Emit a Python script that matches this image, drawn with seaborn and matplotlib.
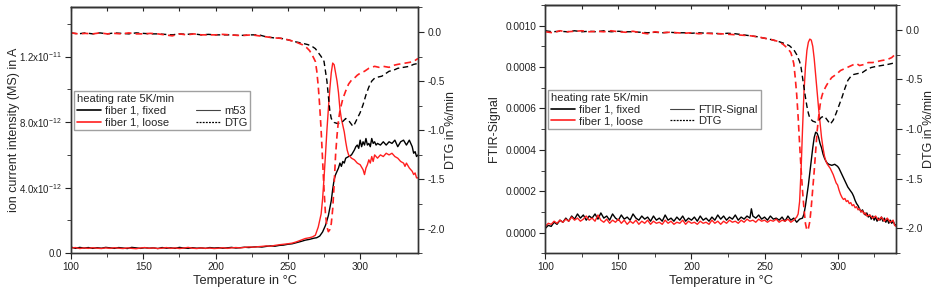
import numpy as np
import pandas as pd
import matplotlib
matplotlib.use("Agg")
import matplotlib.pyplot as plt
import seaborn as sns
from matplotlib.lines import Line2D
from matplotlib.ticker import MultipleLocator

# ---------------- data ----------------
# left panel: MS signal m53, values in 1e-12 A
T_ms_fixed = [100, 103, 106, 109, 112, 115, 118, 121, 124, 127, 130, 133, 136, 139, 142, 145, 148, 151, 154, 157,
              160, 163, 166, 169, 172, 175, 178, 181, 184, 187, 190, 193, 196, 199, 202, 205, 208, 211, 214, 217,
              220, 223, 226, 229, 232, 235, 238, 241, 244, 247, 250, 253, 256, 259, 262, 265, 268, 270, 272, 274,
              276, 278, 280, 281, 282, 283, 284, 285, 286, 287, 288, 289, 290, 292, 294, 296, 297, 298, 299, 300,
              301, 302, 303, 304, 305, 306, 307, 308, 309, 310, 311, 312, 314, 316, 318, 320, 322, 324, 326, 328,
              330, 332, 334, 336, 337, 338, 339, 340]
ms_fixed = [0.38, 0.30, 0.36, 0.32, 0.35, 0.30, 0.34, 0.31, 0.36, 0.33, 0.30, 0.35, 0.32, 0.29, 0.36, 0.33, 0.30, 0.34, 0.31, 0.33,
            0.29, 0.35, 0.31, 0.33, 0.30, 0.36, 0.32, 0.30, 0.34, 0.31, 0.33, 0.30, 0.35, 0.32, 0.34, 0.31, 0.33, 0.36, 0.32, 0.34,
            0.37, 0.35, 0.38, 0.40, 0.38, 0.42, 0.45, 0.43, 0.48, 0.50, 0.55, 0.58, 0.65, 0.72, 0.80, 0.85, 0.92, 0.95, 1.05, 1.30,
            1.70, 2.30, 3.20, 3.90, 4.50, 4.80, 5.00, 5.20, 5.50, 5.30, 5.60, 5.50, 5.80, 5.90, 6.00, 6.30, 6.50, 6.60, 6.40, 6.90,
            6.50, 6.80, 6.60, 7.00, 6.60, 6.70, 6.50, 7.00, 6.70, 6.80, 6.60, 6.70, 6.60, 6.80, 6.60, 6.80, 6.70, 6.90, 6.50, 6.80,
            6.90, 6.60, 6.90, 6.50, 6.10, 6.20, 5.90, 6.00]

T_ms_loose = [100, 103, 106, 109, 112, 115, 118, 121, 124, 127, 130, 133, 136, 139, 142, 145, 148, 151, 154, 157,
              160, 163, 166, 169, 172, 175, 178, 181, 184, 187, 190, 193, 196, 199, 202, 205, 208, 211, 214, 217,
              220, 223, 226, 229, 232, 235, 238, 241, 244, 247, 250, 253, 256, 259, 262, 265, 267, 269, 271, 273,
              274, 275, 276, 277, 278, 279, 280, 281, 282, 283, 284, 285, 286, 287, 288, 289, 290, 291, 292, 294,
              296, 298, 300, 302, 303, 304, 305, 306, 307, 308, 309, 310, 312, 314, 316, 318, 320, 322, 324, 326,
              328, 330, 331, 332, 334, 336, 337, 338, 339, 340]
ms_loose = [0.32, 0.35, 0.29, 0.33, 0.30, 0.34, 0.31, 0.29, 0.33, 0.30, 0.34, 0.31, 0.29, 0.33, 0.30, 0.28, 0.32, 0.35, 0.30, 0.33,
            0.29, 0.31, 0.35, 0.30, 0.33, 0.29, 0.32, 0.36, 0.31, 0.29, 0.33, 0.30, 0.32, 0.29, 0.31, 0.34, 0.30, 0.33, 0.35, 0.33,
            0.36, 0.39, 0.37, 0.40, 0.42, 0.45, 0.43, 0.48, 0.52, 0.55, 0.58, 0.62, 0.70, 0.80, 0.90, 0.95, 1.00, 1.10, 1.60, 2.40,
            3.30, 4.60, 6.00, 7.50, 8.80, 10.00, 11.00, 11.60, 11.50, 11.00, 10.50, 9.80, 8.80, 8.20, 7.80, 7.40, 6.80, 6.30, 6.00, 5.80,
            5.70, 5.50, 5.40, 5.10, 4.80, 5.20, 5.40, 5.70, 5.50, 5.90, 5.60, 6.00, 5.80, 6.00, 5.90, 6.10, 6.00, 6.10, 5.90, 5.80,
            5.60, 5.50, 5.30, 5.50, 5.20, 5.00, 4.80, 4.90, 4.60, 4.60]

# left panel: DTG in %/min
T_dtg1_fixed = [100, 105, 110, 115, 120, 125, 130, 135, 140, 145, 150, 155, 160, 165, 170, 175, 180, 185, 190, 195,
                200, 205, 210, 215, 220, 225, 230, 235, 240, 245, 250, 255, 260, 264, 267, 269, 271, 273, 275, 276,
                277, 278, 279, 280, 282, 284, 286, 288, 290, 292, 294, 295, 296, 298, 300, 302, 304, 306, 308, 310,
                312, 315, 318, 320, 323, 326, 330, 334, 337, 340]
dtg1_fixed = [-0.01, -0.02, -0.01, -0.02, -0.01, -0.02, -0.01, -0.015, -0.02, -0.01, -0.015, -0.02, -0.02, -0.025, -0.03, -0.02, -0.025, -0.02, -0.03, -0.025,
              -0.03, -0.03, -0.03, -0.035, -0.035, -0.03, -0.03, -0.05, -0.06, -0.065, -0.08, -0.10, -0.115, -0.13, -0.15, -0.17, -0.21, -0.25, -0.30, -0.40,
              -0.50, -0.65, -0.80, -0.88, -0.92, -0.93, -0.93, -0.91, -0.88, -0.90, -0.94, -0.96, -0.94, -0.88, -0.82, -0.74, -0.64, -0.56, -0.50, -0.47,
              -0.46, -0.45, -0.42, -0.40, -0.39, -0.37, -0.36, -0.35, -0.33, -0.32]

T_dtg1_loose = [100, 105, 110, 115, 120, 125, 130, 135, 140, 145, 150, 155, 160, 165, 170, 175, 180, 185, 190, 195,
                200, 205, 210, 215, 220, 225, 230, 235, 240, 245, 250, 255, 260, 263, 265, 267, 268, 269, 270, 271,
                272, 273, 274, 275, 276, 277, 278, 279, 280, 281, 282, 283, 284, 285, 286, 288, 290, 292, 294, 296,
                298, 300, 303, 306, 310, 313, 316, 320, 323, 326, 330, 334, 337, 340]
dtg1_loose = [-0.01, -0.02, -0.015, -0.02, -0.01, -0.02, -0.015, -0.02, -0.01, -0.02, -0.02, -0.015, -0.02, -0.03, -0.04, -0.02, -0.03, -0.02, -0.03, -0.03,
              -0.03, -0.025, -0.03, -0.035, -0.035, -0.03, -0.04, -0.05, -0.06, -0.065, -0.08, -0.10, -0.13, -0.16, -0.19, -0.24, -0.27, -0.30, -0.40, -0.55,
              -0.75, -1.00, -1.30, -1.60, -1.85, -1.98, -2.03, -2.01, -1.95, -1.80, -1.55, -1.25, -1.05, -0.90, -0.80, -0.68, -0.60, -0.53, -0.49, -0.47,
              -0.44, -0.42, -0.40, -0.37, -0.35, -0.36, -0.35, -0.36, -0.34, -0.33, -0.32, -0.31, -0.30, -0.27]

# right panel: FTIR signal, values in 1e-4
T_ir_fixed = [100, 102, 104, 106, 108, 110, 112, 114, 116, 118, 120, 122, 124, 126, 128, 130, 132, 134, 136, 138,
              140, 142, 144, 146, 148, 150, 152, 154, 156, 158, 160, 162, 164, 166, 168, 170, 172, 174, 176, 178,
              180, 182, 184, 186, 188, 190, 192, 194, 196, 198, 200, 202, 204, 206, 208, 210, 212, 214, 216, 218,
              220, 222, 224, 226, 228, 230, 232, 234, 236, 238, 240, 241, 242, 244, 246, 248, 250, 252, 254, 256,
              258, 260, 262, 264, 266, 268, 270, 272, 274, 276, 277, 278, 279, 280, 281, 282, 283, 284, 285, 286,
              287, 288, 289, 290, 291, 292, 293, 294, 296, 298, 300, 301, 302, 303, 304, 305, 306, 307, 308, 309,
              310, 311, 312, 313, 314, 315, 316, 317, 318, 319, 320, 321, 322, 323, 324, 325, 326, 327, 328, 329,
              330, 331, 332, 333, 334, 335, 336, 337, 338, 339, 340]
ir_fixed = [0.2, 0.35, 0.3, 0.5, 0.4, 0.6, 0.5, 0.7, 0.55, 0.8, 0.65, 0.9, 0.7, 0.85, 0.6, 0.8, 0.7, 0.9, 0.65, 0.95,
            0.7, 0.8, 0.6, 0.9, 0.7, 0.6, 0.85, 0.65, 0.75, 0.6, 0.9, 0.7, 0.6, 0.8, 0.65, 0.75, 0.55, 0.8, 0.6, 0.7,
            0.55, 0.85, 0.6, 0.7, 0.55, 0.75, 0.6, 0.8, 0.55, 0.7, 0.6, 0.75, 0.55, 0.8, 0.6, 0.7, 0.55, 0.75, 0.6, 0.85,
            0.65, 0.8, 0.6, 0.75, 0.65, 0.85, 0.6, 0.75, 0.65, 0.8, 0.7, 1.15, 0.8, 0.7, 0.85, 0.65, 0.75, 0.6, 0.8, 0.65,
            0.7, 0.6, 0.75, 0.55, 0.8, 0.6, 0.7, 0.5, 0.65, 0.7, 0.9, 1.3, 1.8, 2.3, 2.9, 3.5, 4.1, 4.6, 4.85, 4.8,
            4.6, 4.3, 4.1, 3.8, 3.6, 3.45, 3.35, 3.3, 3.25, 3.3, 3.2, 3.1, 2.95, 2.8, 2.65, 2.5, 2.35, 2.2, 2.1, 2.0,
            1.9, 1.75, 1.55, 1.4, 1.3, 1.15, 1.0, 1.1, 0.95, 0.85, 0.95, 0.75, 0.85, 0.65, 0.8, 0.6, 0.75, 0.55, 0.7, 0.6,
            0.75, 0.55, 0.7, 0.5, 0.65, 0.45, 0.6, 0.45, 0.55, 0.4, 0.35]

T_ir_loose = [100, 102, 104, 106, 108, 110, 112, 114, 116, 118, 120, 122, 124, 126, 128, 130, 132, 134, 136, 138,
              140, 142, 144, 146, 148, 150, 152, 154, 156, 158, 160, 162, 164, 166, 168, 170, 172, 174, 176, 178,
              180, 182, 184, 186, 188, 190, 192, 194, 196, 198, 200, 202, 204, 206, 208, 210, 212, 214, 216, 218,
              220, 222, 224, 226, 228, 230, 232, 234, 236, 238, 240, 242, 244, 246, 248, 250, 252, 254, 256, 258,
              260, 262, 264, 266, 268, 270, 272, 273, 274, 275, 276, 277, 278, 279, 280, 281, 282, 283, 284, 285,
              286, 287, 288, 289, 290, 291, 292, 293, 294, 295, 296, 297, 298, 299, 300, 301, 302, 303, 304, 305,
              306, 307, 308, 309, 310, 311, 312, 313, 314, 315, 316, 317, 318, 319, 320, 322, 324, 326, 328, 330,
              332, 334, 336, 338, 339, 340]
ir_loose = [0.3, 0.45, 0.4, 0.55, 0.45, 0.6, 0.5, 0.65, 0.55, 0.75, 0.6, 0.7, 0.55, 0.65, 0.8, 0.6, 0.7, 0.55, 0.85, 0.6,
            0.5, 0.65, 0.45, 0.6, 0.5, 0.65, 0.45, 0.6, 0.4, 0.55, 0.45, 0.6, 0.4, 0.55, 0.45, 0.6, 0.4, 0.55, 0.45, 0.5,
            0.4, 0.6, 0.45, 0.55, 0.4, 0.5, 0.45, 0.6, 0.4, 0.55, 0.45, 0.5, 0.4, 0.55, 0.45, 0.5, 0.4, 0.6, 0.45, 0.55,
            0.4, 0.55, 0.45, 0.6, 0.5, 0.55, 0.45, 0.6, 0.5, 0.65, 0.55, 0.6, 0.5, 0.65, 0.55, 0.6, 0.5, 0.6, 0.55, 0.65,
            0.5, 0.6, 0.55, 0.65, 0.5, 0.6, 0.75, 0.9, 1.5, 3.0, 5.0, 6.8, 8.0, 8.8, 9.2, 9.35, 9.3, 9.0, 8.4, 7.6,
            6.8, 6.0, 5.3, 4.6, 4.1, 3.7, 3.45, 3.3, 3.2, 3.1, 2.95, 2.8, 2.6, 2.4, 2.3, 2.05, 1.85, 1.7, 1.6, 1.65,
            1.5, 1.55, 1.4, 1.45, 1.3, 1.35, 1.2, 1.25, 1.1, 1.15, 1.0, 1.05, 0.9, 0.95, 0.8, 0.85, 0.7, 0.8, 0.6, 0.75,
            0.55, 0.7, 0.5, 0.6, 0.35, 0.3]

# right panel: DTG in %/min
T_dtg2_fixed = [100, 105, 110, 115, 120, 125, 130, 135, 140, 145, 150, 155, 160, 165, 170, 175, 180, 185, 190, 195,
                200, 205, 210, 215, 220, 225, 230, 235, 240, 245, 250, 255, 260, 264, 267, 270, 272, 274, 275, 276,
                277, 278, 279, 280, 281, 283, 285, 287, 289, 291, 293, 295, 297, 299, 301, 303, 305, 307, 309, 311,
                314, 317, 320, 323, 326, 330, 334, 337, 340]
dtg2_fixed = [-0.01, -0.02, -0.015, -0.02, -0.01, -0.02, -0.015, -0.02, -0.01, -0.02, -0.015, -0.02, -0.02, -0.025, -0.03, -0.025, -0.03, -0.025, -0.03, -0.03,
              -0.035, -0.03, -0.035, -0.035, -0.04, -0.035, -0.04, -0.05, -0.06, -0.07, -0.085, -0.10, -0.12, -0.14, -0.16, -0.20, -0.25, -0.32, -0.38, -0.48,
              -0.58, -0.68, -0.77, -0.84, -0.89, -0.92, -0.93, -0.91, -0.88, -0.87, -0.91, -0.95, -0.91, -0.84, -0.76, -0.68, -0.59, -0.51, -0.47, -0.45,
              -0.44, -0.43, -0.40, -0.38, -0.37, -0.36, -0.35, -0.34, -0.33]

T_dtg2_loose = [100, 105, 110, 115, 120, 125, 130, 135, 140, 145, 150, 155, 160, 165, 170, 175, 180, 185, 190, 195,
                200, 205, 210, 215, 220, 225, 230, 235, 240, 245, 250, 255, 260, 263, 266, 268, 269, 270, 271, 272,
                273, 274, 275, 276, 277, 278, 279, 280, 281, 282, 283, 284, 285, 286, 287, 288, 289, 290, 292, 294,
                296, 299, 302, 305, 308, 311, 313, 315, 318, 321, 324, 327, 330, 334, 337, 340]
dtg2_loose = [-0.02, -0.03, -0.01, -0.02, -0.015, -0.01, -0.02, -0.015, -0.02, -0.01, -0.02, -0.025, -0.015, -0.03, -0.04, -0.02, -0.03, -0.025, -0.03, -0.035,
              -0.03, -0.04, -0.035, -0.04, -0.04, -0.045, -0.05, -0.055, -0.06, -0.07, -0.085, -0.10, -0.12, -0.15, -0.19, -0.23, -0.28, -0.34, -0.48, -0.65,
              -0.88, -1.15, -1.40, -1.62, -1.80, -1.95, -2.02, -2.00, -1.93, -1.78, -1.60, -1.42, -1.22, -1.02, -0.88, -0.76, -0.68, -0.63, -0.57, -0.52,
              -0.48, -0.45, -0.41, -0.39, -0.37, -0.35, -0.34, -0.36, -0.35, -0.33, -0.33, -0.32, -0.31, -0.30, -0.28, -0.24]

legend_title = "heating rate 5K/min"
sample_labels = ["fiber 1, fixed", "fiber 1, loose"]
RED = "#ff1f1f"

# ---------------- style ----------------
sns.set_style("ticks")
plt.rcParams["font.family"] = ["Liberation Sans", "DejaVu Sans"]
plt.rcParams["mathtext.default"] = "regular"
plt.rcParams["axes.edgecolor"] = "#333333"
plt.rcParams["axes.linewidth"] = 1.0

fig = plt.figure(figsize=(9.37, 2.96), dpi=100)
ax_l = fig.add_axes([0.0758, 0.1443, 0.3703, 0.8310])
ax_r = fig.add_axes([0.5820, 0.1443, 0.3743, 0.8390])


def draw_panel(ax, t_fix, y_fix, t_loose, y_loose, td_fix, d_fix, td_loose, d_loose, sig_label, lab_x):
    sns.lineplot(x=t_fix, y=y_fix, ax=ax, color="black", lw=1.0, estimator=None, sort=False)
    sns.lineplot(x=t_loose, y=y_loose, ax=ax, color=RED, lw=1.0, estimator=None, sort=False)
    ax2 = ax.twinx()
    sns.lineplot(x=td_fix, y=d_fix, ax=ax2, color="black", lw=1.0, estimator=None, sort=False,
                 linestyle=(0, (4, 2.5)))
    sns.lineplot(x=td_loose, y=d_loose, ax=ax2, color=RED, lw=1.2, estimator=None, sort=False,
                 linestyle=(0, (4, 2.5)))
    ax.set_xlim(100, 340)
    ax.xaxis.set_major_locator(MultipleLocator(50))
    ax.xaxis.set_minor_locator(MultipleLocator(25))
    ax.set_xlabel("Temperature in °C", fontsize=9.3, labelpad=2)
    ax.tick_params(axis="both", which="both", direction="out", labelsize=7.3, colors="#222222", pad=2.5)
    ax.tick_params(which="major", length=4)
    ax.tick_params(which="minor", length=3)
    top = ax.secondary_xaxis("top")
    top.xaxis.set_major_locator(MultipleLocator(25))
    top.tick_params(direction="in", length=3, labeltop=False)

    ax2.set_ylim(-2.25, 0.25)
    ax2.yaxis.set_minor_locator(MultipleLocator(0.25))
    ax2.set_yticks([0.0, -0.5, -1.0, -1.5, -2.0])
    ax2.set_yticklabels(["0.0", "-0.5", "-1.0", "-1.5", "-2.0"])
    ax2.tick_params(axis="y", which="both", direction="out", labelsize=7.3, pad=3)
    ax2.tick_params(which="major", length=4)
    ax2.tick_params(which="minor", length=3)
    ax2.set_ylabel("DTG in %/min", fontsize=9)
    ax2.yaxis.set_label_coords(1.077, 0.5)

    handles = [Line2D([], [], color="black", lw=1.2),
               Line2D([], [], color=RED, lw=1.2),
               Line2D([], [], color="#444444", lw=0.8),
               Line2D([], [], color="black", lw=0.9, linestyle=(0, (1.5, 1)))]
    labels = sample_labels + [sig_label, "DTG"]
    leg = ax2.legend(handles, labels, title=legend_title, ncol=2, loc="lower left",
                     bbox_to_anchor=(0.008, 0.5), fontsize=8, title_fontsize=8,
                     alignment="left", frameon=True, fancybox=False, edgecolor="#888888",
                     handlelength=2.2, handletextpad=0.35, columnspacing=2.4,
                     borderpad=0.25, labelspacing=0.15, borderaxespad=0)
    leg.get_frame().set_linewidth(1.0)
    ax.yaxis.set_label_coords(lab_x, 0.5)
    return ax2


# left panel
draw_panel(ax_l, T_ms_fixed, np.array(ms_fixed) * 1e-12, T_ms_loose, np.array(ms_loose) * 1e-12,
           T_dtg1_fixed, dtg1_fixed, T_dtg1_loose, dtg1_loose, "m53", -0.148)
ax_l.set_ylim(0, 1.5e-11)
ax_l.set_yticks([0, 4e-12, 8e-12, 1.2e-11])
ax_l.set_yticklabels(["0.0", r"4.0x10$^{-12}$", r"8.0x10$^{-12}$", r"1.2x10$^{-11}$"])
ax_l.yaxis.set_minor_locator(MultipleLocator(2e-12))
ax_l.tick_params(axis="y", labelsize=7.0)
ax_l.set_ylabel("ion current intensity (MS) in A", fontsize=9)

# right panel
draw_panel(ax_r, T_ir_fixed, np.array(ir_fixed) * 1e-4, T_ir_loose, np.array(ir_loose) * 1e-4,
           T_dtg2_fixed, dtg2_fixed, T_dtg2_loose, dtg2_loose, "FTIR-Signal", -0.129)
ax_r.set_ylim(-0.0001, 0.0011)
ax_r.set_yticks([0.0, 0.0002, 0.0004, 0.0006, 0.0008, 0.0010])
ax_r.set_yticklabels(["0.0000", "0.0002", "0.0004", "0.0006", "0.0008", "0.0010"])
ax_r.yaxis.set_minor_locator(MultipleLocator(0.0001))
ax_r.set_ylabel("FTIR-Signal", fontsize=9)

fig.savefig("out.png", dpi=100)
